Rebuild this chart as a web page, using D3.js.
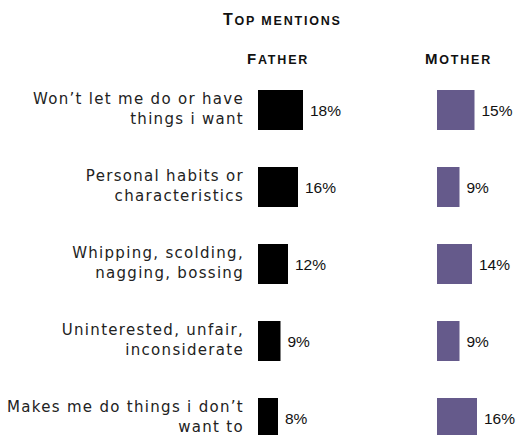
<!DOCTYPE html>
<html>
<head>
<meta charset="utf-8">
<script src="https://cdn.jsdelivr.net/npm/d3@7"></script>
<style>
body { margin: 0; background: white; }
</style>
</head>
<body>
<svg id="chart"></svg>
<script>
let width = 525;
let height = 435;

// label lines for each mention
let categories = [
    ["Won\u2019t let me do or have", "things i want"],
    ["Personal habits or", "characteristics"],
    ["Whipping, scolding,", "nagging, bossing"],
    ["Uninterested, unfair,", "inconsiderate"],
    ["Makes me do things i don\u2019t", "want to"]
];
let father = [18, 16, 12, 9, 8];
let mother = [15, 9, 14, 9, 16];

const svg = d3.select("#chart")
    .attr("width", width)
    .attr("height", height);

// step 77, bar 40
const y = d3.scaleBand()
    .domain(d3.range(categories.length))
    .range([90, 90 + 77 * 4 + 40])
    .paddingInner(37 / 77)
    .paddingOuter(0);

// 2.5px per percent
const xF = d3.scaleLinear().domain([0, 20]).range([258, 308]);
const xM = d3.scaleLinear().domain([0, 20]).range([437, 487]);

const headFont = "'Liberation Sans', Arial, sans-serif";

// header
const head = svg.append("text")
    .attr("x", 223)
    .attr("y", 25)
    .style("font-family", headFont)
    .style("font-weight", "bold")
    .style("letter-spacing", "1.8px")
    .style("fill", "#111");
head.append("tspan").style("font-size", "16px").text("T");
head.append("tspan").style("font-size", "12.5px").text("OP MENTIONS");

function colHead(x, first, rest) {
    const t = svg.append("text")
        .attr("x", x)
        .attr("y", 64)
        .style("font-family", headFont)
        .style("font-weight", "bold")
        .style("letter-spacing", "1.8px")
        .style("fill", "#111");
    t.append("tspan").style("font-size", "15px").text(first);
    t.append("tspan").style("font-size", "12.5px").text(rest);
}
colHead(247, "F", "ATHER");
colHead(425, "M", "OTHER");

// category labels
const lab = svg.append("g")
    .attr("text-anchor", "end")
    .style("font-family", "'DejaVu Sans', sans-serif")
    .style("font-size", "15px")
    .style("letter-spacing", "1.3px")
    .style("fill", "#222")
    .selectAll("text")
    .data(categories)
    .join("text")
    .attr("y", (d, i) => y(i) + 14);
lab.selectAll("tspan")
    .data(d => d)
    .join("tspan")
    .attr("x", 244)
    .attr("dy", (d, j) => j === 0 ? 0 : 20)
    .text(d => d);

function bars(vals, x, color) {
    const g = svg.append("g");
    g.selectAll("rect")
        .data(vals)
        .join("rect")
        .attr("x", x(0))
        .attr("y", (d, i) => y(i))
        .attr("width", d => x(d) - x(0))
        .attr("height", y.bandwidth())
        .attr("fill", color);
    g.selectAll("text")
        .data(vals)
        .join("text")
        .attr("x", d => x(d) + 7)
        .attr("y", (d, i) => y(i) + y.bandwidth() / 2 + 5.5)
        .style("font-family", "'Liberation Sans', Arial, sans-serif")
        .style("font-size", "15.5px")
        .style("fill", "#111")
        .text(d => d + "%");
}
bars(father, xF, "#000");
bars(mother, xM, "#655a8b");
</script>
</body>
</html>
